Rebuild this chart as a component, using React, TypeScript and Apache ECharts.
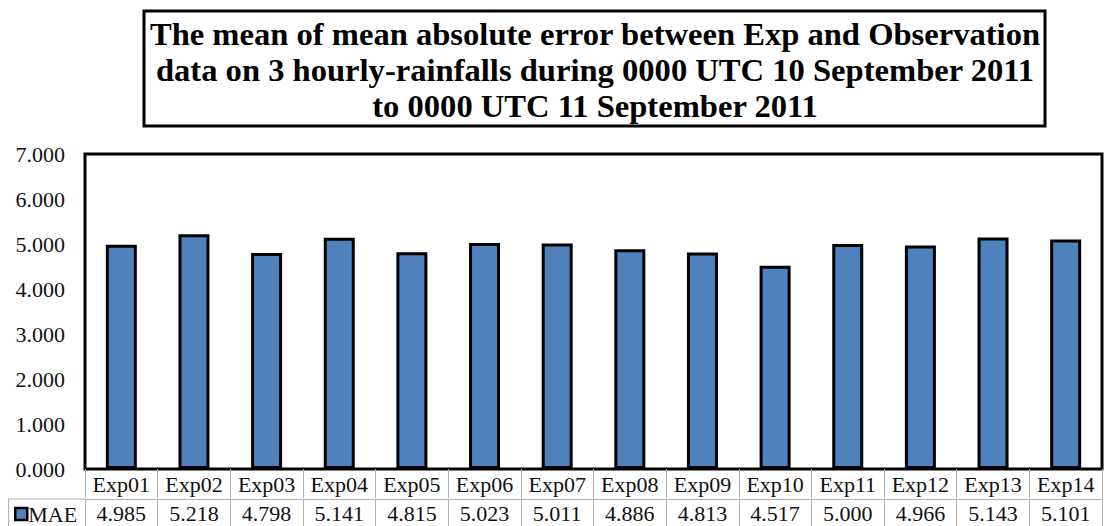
import React, { useEffect, useRef } from "react";
import * as echarts from "echarts";

const categories = ["Exp01","Exp02","Exp03","Exp04","Exp05","Exp06","Exp07","Exp08","Exp09","Exp10","Exp11","Exp12","Exp13","Exp14"];
const mae = [4.985, 5.218, 4.798, 5.141, 4.815, 5.023, 5.011, 4.886, 4.813, 4.517, 5.0, 4.966, 5.143, 5.101];
const seriesName = "MAE";
const titleLines = [
  "The mean of mean absolute error between Exp and Observation",
  "data on 3 hourly-rainfalls during 0000 UTC 10 September 2011",
  "to 0000 UTC 11 September 2011",
];
const yMin = 0;
const yMax = 7;
const yInterval = 1;

const FONT = "Liberation Serif";

export default function App() {
  const ref = useRef<HTMLDivElement>(null);
  useEffect(() => {
    if (!ref.current) return;
    const chart = echarts.init(ref.current, null, { renderer: "svg" });
    const gridLeft = 85, gridRight = 5, gridTop = 154, gridBottom = 57;
    const H = 526;
    const axisY = H - gridBottom;
    chart.setOption({
      animation: false,
      backgroundColor: "#fff",
      textStyle: { fontFamily: FONT },
      grid: {
        left: gridLeft, right: gridRight, top: gridTop, bottom: gridBottom,
        show: true, borderColor: "#000", borderWidth: 3, backgroundColor: "transparent",
      },
      legend: {
        show: true,
        left: 14, top: 503, padding: 0,
        itemWidth: 12, itemHeight: 12, itemGap: 2,
        icon: "rect",
        data: [seriesName],
        itemStyle: { color: "#4F81BD", borderColor: "#000", borderWidth: 2.5 },
        textStyle: { fontFamily: FONT, fontSize: 22, color: "#111", padding: [0, 0, 0, -4] },
        selectedMode: false,
      },
      xAxis: [
        {
          type: "category",
          data: categories,
          position: "bottom",
          axisLine: { show: false },
          axisTick: { show: true, interval: 0, length: 29, lineStyle: { color: "#b0b0b0", width: 1 } },
          axisLabel: { interval: 0, margin: 4, fontFamily: FONT, fontSize: 22, color: "#111" },
        },
        {
          type: "category",
          data: categories,
          position: "bottom",
          offset: 30,
          axisLine: { show: true, lineStyle: { color: "#b0b0b0", width: 1 } },
          axisTick: { show: true, interval: 0, length: 28, lineStyle: { color: "#b0b0b0", width: 1 } },
          axisLabel: {
            interval: 0, margin: 3, fontFamily: FONT, fontSize: 22, color: "#111",
            formatter: (_v: string, i: number) => mae[i].toFixed(3),
          },
        },
      ],
      yAxis: {
        type: "value",
        min: yMin, max: yMax, interval: yInterval,
        axisLine: { show: false },
        axisTick: { show: false },
        splitLine: { show: false },
        axisLabel: {
          margin: 20, fontFamily: FONT, fontSize: 22, color: "#111",
          formatter: (v: number) => v.toFixed(3),
        },
      },
      series: [
        {
          name: seriesName,
          type: "bar",
          xAxisIndex: 0,
          data: mae,
          barWidth: 31,
          itemStyle: { color: "#4F81BD", borderColor: "#000", borderWidth: 3 },
        },
      ],
      graphic: [
        {
          type: "rect",
          shape: { x: 144, y: 11, width: 901, height: 115 },
          style: { fill: "none", stroke: "#000", lineWidth: 3 },
          silent: true,
        },
        {
          type: "text",
          x: 595, y: 70,
          style: {
            text: titleLines.join("\n"),
            fontFamily: FONT,
            fontWeight: "bold",
            fontSize: 32.6,
            fill: "#000",
            align: "center",
            verticalAlign: "middle",
            lineHeight: 36,
          },
          silent: true,
        },
        {
          type: "line",
          shape: { x1: 8, y1: axisY + 30, x2: gridLeft, y2: axisY + 30 },
          style: { stroke: "#b0b0b0", lineWidth: 1 },
          silent: true,
        },
        {
          type: "line",
          shape: { x1: 8.5, y1: axisY + 30, x2: 8.5, y2: H },
          style: { stroke: "#b0b0b0", lineWidth: 1 },
          silent: true,
        },
      ],
    });
    return () => chart.dispose();
  }, []);
  return (
    <div
      ref={ref}
      style={{ position: "fixed", left: 0, top: 0, width: 1107, height: 526 }}
    />
  );
}
